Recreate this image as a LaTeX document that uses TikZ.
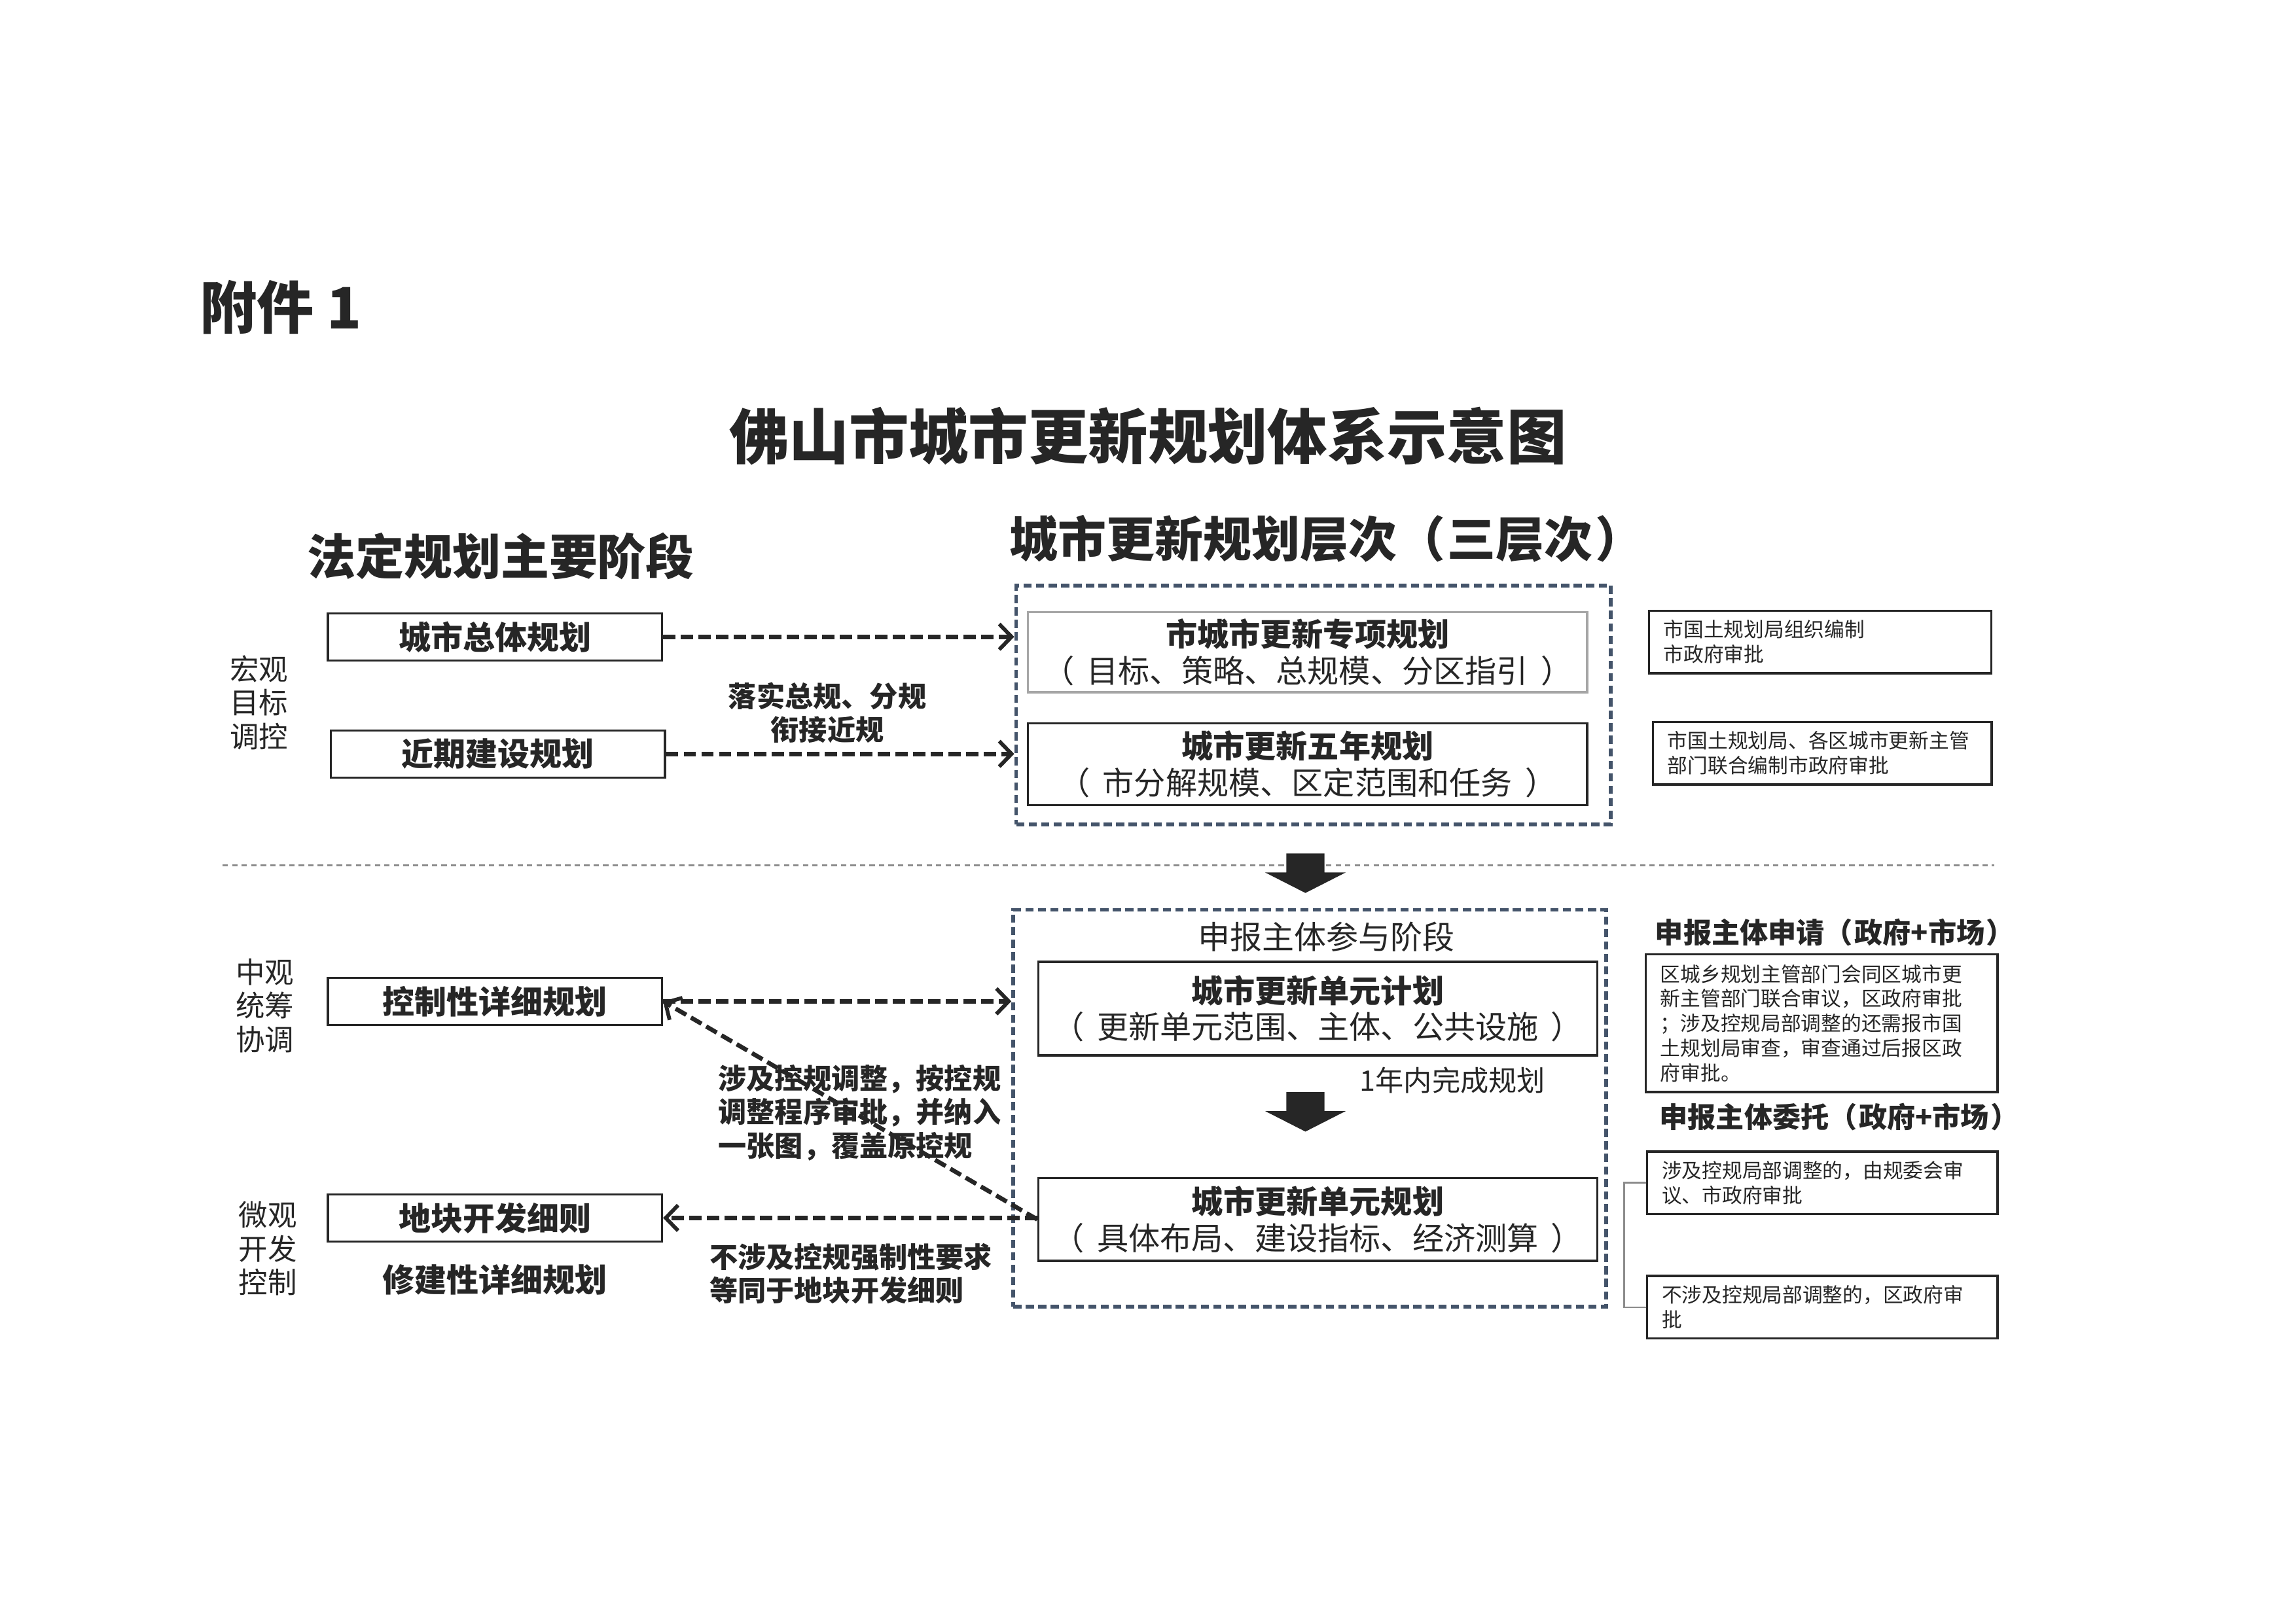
\documentclass[tikz,border=0pt]{standalone}
\usepackage{fontspec}
\setmainfont{Noto Sans CJK SC}
\usetikzlibrary{arrows.meta}
\definecolor{ink}{HTML}{262626}
\definecolor{slate}{HTML}{44546A}
\definecolor{rule}{HTML}{8C8C8C}
\definecolor{soft}{HTML}{A6A6A6}
\newcommand{\lp}[1]{（\hspace{#1}}
\newcommand{\rp}[1]{\hspace{#1}）}
\begin{document}
\begin{tikzpicture}[x=0.01894cm, y=-0.01894cm, text=ink,
  main/.style = {draw=ink, line width=0.8pt, minimum width=4.32cm, minimum height=0.61cm, inner sep=0pt, font=\fontsize{11.8}{14}\selectfont\bfseries},
  layer/.style = {draw=ink, line width=0.8pt, minimum width=7.23cm, inner sep=1pt, align=center, font=\fontsize{11.6}{13.4}\selectfont},
  stage/.style = {draw=slate, line width=1.4pt, dash pattern=on 3pt off 1.6pt, inner sep=0pt},
  note/.style = {draw=ink, line width=0.8pt, minimum height=0.81cm, inner xsep=0.19cm, inner ysep=1pt, align=left, font=\fontsize{7.4}{9.1}\selectfont},
  side/.style = {align=center, font=\fontsize{10.7}{12.4}\selectfont},
  tag/.style = {font=\fontsize{10.4}{12.4}\selectfont\bfseries},
  heading/.style = {font=\fontsize{17.8}{20}\selectfont\bfseries},
  link/.style = {draw=ink, line width=1.6pt, dash pattern=on 4.5pt off 2pt, -{Straight Barb[length=1.6mm,width=3.3mm,line width=1.4pt]}},
  blockarrow/.pic = {\fill[ink] (-13,0) -- (13,0) -- (13,13) -- (27.5,13) -- (0,27) -- (-27.5,13) -- (-13,13) -- cycle;}
]
\useasboundingbox (0,0) rectangle (1568,1109);

% titles
\node[anchor=west, font=\fontsize{21}{24}\selectfont\bfseries] (t0) at (130,210) {附件 1};
\node[font=\fontsize{22}{26}\selectfont\bfseries] (t1) at (784,298) {佛山市城市更新规划体系示意图};
\node[heading] (h1) at (342,380) {法定规划主要阶段};
\node[heading] (h2) at (906,368) {城市更新规划层次\lp{0.05em}三层次\rp{0.05em}};

% scale labels
\node[side] (a1) at (177,480) {宏观\\目标\\调控};
\node[side] (a2) at (181,687) {中观\\统筹\\协调};
\node[side] (a3) at (183,853) {微观\\开发\\控制};

% statutory plans
\node[main] (1) at (338,435) {城市总体规划};
\node[main] (2) at (340,515) {近期建设规划};
\node[main] (3) at (338,684) {控制性详细规划};
\node[main] (4) at (338,832) {地块开发细则};
\node[font=\fontsize{11.8}{14}\selectfont\bfseries] (4b) at (338,874) {修建性详细规划};

% renewal levels
\node[stage, minimum width=7.69cm, minimum height=3.09cm] (s1) at (897,481.5) {};
\node[layer, draw=soft, minimum height=1.04cm] (5) at (893,445.5) {{\bfseries 市城市更新专项规划}\\\lp{0.4em}目标、策略、总规模、分区指引\rp{0.4em}};
\node[layer, minimum height=1.06cm] (6) at (893,522) {{\bfseries 城市更新五年规划}\\\lp{0.4em}市分解规模、区定范围和任务\rp{0.4em}};

\node[stage, minimum width=7.67cm, minimum height=5.13cm] (s2) at (894.5,757) {};
\node[font=\fontsize{11.8}{14}\selectfont] (s2t) at (906,640) {申报主体参与阶段};
\node[layer, minimum height=1.21cm] (7) at (900,689) {{\bfseries 城市更新单元计划}\\\lp{0.4em}更新单元范围、主体、公共设施\rp{0.4em}};
\node[font=\fontsize{10.4}{12}\selectfont] (yr) at (992,738) {1年内完成规划};
\node[layer, minimum height=1.07cm] (8) at (900,833) {{\bfseries 城市更新单元规划}\\\lp{0.4em}具体布局、建设指标、经济测算\rp{0.4em}};

% approval notes
\node[note, minimum width=4.43cm, text width=4.05cm] (n1) at (1243,438.5) {市国土规划局组织编制\\市政府审批};
\node[note, minimum width=4.38cm, text width=4.0cm] (n2) at (1244.5,514.5) {市国土规划局、各区城市更新主管\\部门联合编制市政府审批};
\node[tag] (r1) at (1253,637) {申报主体申请\lp{0.05em}政府+市场\rp{0.05em}};
\node[note, minimum width=4.55cm, text width=4.17cm, minimum height=1.78cm] (n3) at (1244,699) {区城乡规划主管部门会同区城市更\\新主管部门联合审议，区政府审批\\；涉及控规局部调整的还需报市国\\土规划局审查，审查通过后报区政\\府审批。};
\node[tag] (r2) at (1256,763) {申报主体委托\lp{0.05em}政府+市场\rp{0.05em}};
\node[note, minimum width=4.53cm, text width=4.15cm] (n4) at (1244.5,808) {涉及控规局部调整的，由规委会审\\议、市政府审批};
\node[note, minimum width=4.53cm, text width=4.15cm] (n5) at (1244.5,893) {不涉及控规局部调整的，区政府审\\批};
\draw[rule, line width=0.6pt] (n4.west) -- ++(-15,0) |- (n5.west);

% separator and stage arrows
\draw[rule, line width=0.7pt, dash pattern=on 2pt off 1.5pt] (152,591) -- (1362,591);
\pic at (891.5,583) {blockarrow};
\pic at (891.5,746) {blockarrow};

% connectors
\draw[link] (1.east) -- (1.east -| s1.west);
\draw[link] (2.east) -- (2.east -| s1.west);
\draw[link] (3.east) -- (3.east -| s2.west);
\draw[link] (8.west) -- (3.east);
\draw[link] (4.east -| 8.west) -- (4.east);

\node[tag, align=center] (k1) at (565,487) {落实总规、分规\\衔接近规};
\node[tag, align=left, anchor=west] (k2) at (484,760) {涉及控规调整，按控规\\调整程序审批，并纳入\\一张图，覆盖原控规};
\node[tag, align=left, anchor=west] (k3) at (478,870) {不涉及控规强制性要求\\等同于地块开发细则};

\end{tikzpicture}
\end{document}
